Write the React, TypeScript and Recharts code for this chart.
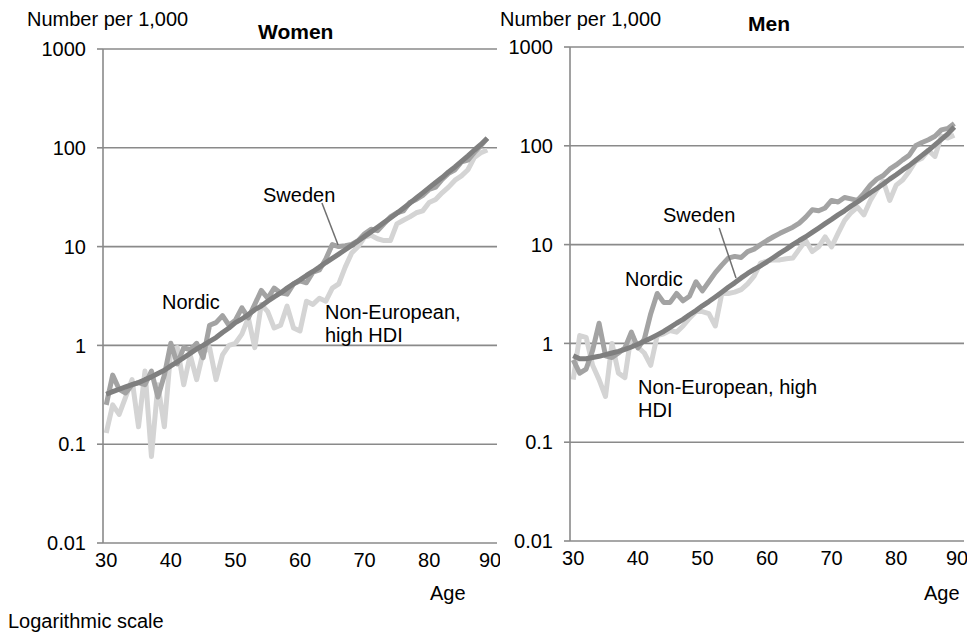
import React from 'react';
import { LineChart, Line, XAxis, YAxis, CartesianGrid, ReferenceLine } from 'recharts';

const ages = [
  30, 31, 32, 33, 34, 35, 36, 37, 38, 39, 40, 41, 42, 43, 44, 45, 46, 47, 48, 49,
  50, 51, 52, 53, 54, 55, 56, 57, 58, 59, 60, 61, 62, 63, 64, 65, 66, 67, 68, 69,
  70, 71, 72, 73, 74, 75, 76, 77, 78, 79, 80, 81, 82, 83, 84, 85, 86, 87, 88, 89,
];

const womenSweden = [
  0.32, 0.34, 0.36, 0.38, 0.4, 0.42, 0.45, 0.48, 0.52, 0.56, 0.62, 0.68, 0.75, 0.83, 0.92, 1.0, 1.1, 1.2, 1.35, 1.5,
  1.7, 1.85, 2.05, 2.3, 2.5, 2.8, 3.1, 3.4, 3.8, 4.2, 4.6, 5.1, 5.6, 6.2, 6.9, 7.6, 8.4, 9.3, 10.3, 11.4,
  12.7, 14.1, 15.7, 17.5, 19.5, 21.8, 24.5, 27.5, 31, 35, 39.5, 44.5, 50, 57, 64, 73, 83, 95, 108, 125,
];
const womenNordic = [
  0.25, 0.5, 0.36, 0.33, 0.4, 0.42, 0.4, 0.55, 0.3, 0.5, 1.05, 0.65, 0.95, 0.9, 1.05, 0.75, 1.6, 1.7, 2.0, 1.6,
  1.8, 2.4, 1.9, 2.6, 3.6, 3.0, 3.8, 3.4, 3.3, 4.2, 4.5, 4.3, 5.5, 5.8, 7.5, 10.5, 10.0, 10.2, 10.5, 11.5,
  13.5, 15, 14.5, 17, 20, 22, 23, 28, 30, 33, 38, 40, 48, 55, 60, 72, 75, 90, 105, 125,
];
const womenNonEur = [
  0.13, 0.25, 0.2, 0.3, 0.45, 0.15, 0.55, 0.075, 0.4, 0.15, 0.9, 0.95, 0.4, 0.8, 0.45, 0.85, 0.95, 0.45, 0.8, 1.0,
  1.05, 1.3, 1.9, 0.95, 2.6, 2.2, 1.5, 1.6, 2.5, 1.5, 1.4, 2.8, 2.6, 3.0, 2.8, 3.8, 4.2, 6.2, 8.6, 10,
  12.5, 13, 12, 11.5, 11.5, 17, 18.5, 20, 22, 23, 28, 30, 35, 40, 47, 52, 60, 80, 89, 95,
];

const menSweden = [
  0.75, 0.7, 0.7, 0.72, 0.74, 0.77, 0.8, 0.83, 0.87, 0.92, 0.98, 1.05, 1.13, 1.22, 1.32, 1.45, 1.6, 1.75, 1.95, 2.15,
  2.4, 2.65, 2.95, 3.3, 3.7, 4.1, 4.6, 5.1, 5.6, 6.1, 6.7, 7.4, 8.2, 9.0, 10, 11, 12, 13.3, 14.7, 16.3,
  18, 20, 22, 24.5, 27, 30, 33.5, 37, 41, 46, 51, 57, 63, 71, 80, 90, 102, 116, 132, 155,
];
const menNordic = [
  0.68, 0.5, 0.55, 0.85, 1.6, 0.75, 0.72, 0.8, 0.9, 1.3, 0.9, 1.1, 2.0, 3.2, 2.6, 2.6, 3.2, 2.7, 3.0, 4.2,
  3.4, 4.2, 5.2, 6.2, 7.3, 7.6, 7.4, 8.5, 9.0, 10, 11, 12, 13, 14, 15, 16.5, 19, 22.5, 22, 23.5,
  28, 27, 30, 29, 28, 33, 40, 46, 50, 58, 64, 72, 80, 100, 108, 115, 125, 145, 150, 168,
];
const menNonEur = [
  0.43, 1.2, 1.15, 0.6, 0.43, 0.29, 1.0, 0.5, 0.45, 1.25, 0.92, 0.8, 0.6, 1.2, 1.25, 1.35, 1.3, 1.5, 1.8, 2.1,
  2.1, 2.0, 1.5, 3.2, 3.2, 3.3, 3.5, 4.0, 4.8, 6.5, 6.8, 7.0, 7.0, 7.2, 7.3, 9, 11, 8.5, 9.5, 12,
  9.5, 13, 17.5, 21, 24, 20, 28, 36, 44, 28, 40, 45, 55, 70, 75, 90, 78, 125, 120, 128,
];

const ageTicks = [30, 40, 50, 60, 70, 80, 90];
const rateTicks = [0.01, 0.1, 1, 10, 100, 1000];

const womenRows = ages.map((age, i) => ({
  age,
  sweden: womenSweden[i],
  nordic: womenNordic[i],
  nonEur: womenNonEur[i],
}));
const menRows = ages.map((age, i) => ({
  age,
  sweden: menSweden[i],
  nordic: menNordic[i],
  nonEur: menNonEur[i],
}));

const FONT = '"Liberation Sans", Arial, sans-serif';
const GRID = '#8a8a8a';

const Panel = ({ rows, leader }: { rows: any[]; leader: { x: number; y: number }[] }) => (
  <LineChart width={500} height={600} data={rows} margin={{ top: 49, right: 3, left: 0, bottom: 27 }}>
    <CartesianGrid horizontal vertical={false} stroke={GRID} strokeWidth={1.6} />
    <XAxis
      dataKey="age"
      type="number"
      domain={[29.5, 90.5]}
      ticks={ageTicks}
      allowDataOverflow
      axisLine={false}
      tickLine={false}
      tickMargin={4}
      height={30}
      tick={{ fontSize: 20, fill: '#000', fontFamily: FONT }}
    />
    <YAxis
      type="number"
      scale="log"
      domain={[0.01, 1000]}
      ticks={rateTicks}
      allowDataOverflow
      width={103}
      axisLine={{ stroke: GRID, strokeWidth: 1.6 }}
      tickLine={{ stroke: GRID, strokeWidth: 1.6 }}
      tickSize={6}
      tickMargin={11}
      tickFormatter={(v: number) => String(v)}
      tick={{ fontSize: 20, fill: '#000', fontFamily: FONT }}
    />
    <Line dataKey="nonEur" stroke="#d4d4d4" strokeWidth={5} dot={false} isAnimationActive={false} strokeLinejoin="round" />
    <Line dataKey="nordic" stroke="#a3a3a3" strokeWidth={5} dot={false} isAnimationActive={false} strokeLinejoin="round" />
    <Line dataKey="sweden" stroke="#7f7f7f" strokeWidth={5} dot={false} isAnimationActive={false} strokeLinejoin="round" />
    <ReferenceLine segment={leader} stroke="#707070" strokeWidth={1.5} ifOverflow="visible" />
  </LineChart>
);

const txt = (left: number, top: number, s: React.ReactNode, bold = false) => (
  <div
    style={{
      position: 'absolute',
      left,
      top,
      fontFamily: FONT,
      fontSize: bold ? 21 : 20,
      fontWeight: bold ? 'bold' : 'normal',
      lineHeight: '23px',
      whiteSpace: 'nowrap',
      color: '#000',
    }}
  >
    {s}
  </div>
);

export default function App() {
  return (
    <div style={{ position: 'absolute', left: 0, top: 0, width: 973, height: 637, background: '#fff', overflow: 'hidden' }}>
      <div style={{ position: 'absolute', left: 0, top: 0 }}>
        <Panel rows={womenRows} leader={[{ x: 63.4, y: 27.6 }, { x: 65.9, y: 10.4 }]} />
      </div>
      <div style={{ position: 'absolute', left: 467, top: -2 }}>
        <Panel rows={menRows} leader={[{ x: 52.6, y: 14.7 }, { x: 55.2, y: 4.6 }]} />
      </div>

      {txt(27, 8, 'Number per 1,000')}
      {txt(258, 20, 'Women', true)}
      {txt(500, 8, 'Number per 1,000')}
      {txt(748, 12, 'Men', true)}

      {txt(263, 184, 'Sweden')}
      {txt(162, 291, 'Nordic')}
      {txt(325, 301, <>Non-European,<br />high HDI</>)}

      {txt(663, 204, 'Sweden')}
      {txt(625, 268, 'Nordic')}
      {txt(638, 376, <>Non-European, high<br />HDI</>)}

      {txt(430, 582, 'Age')}
      {txt(924, 582, 'Age')}
      {txt(8, 610, 'Logarithmic scale')}
    </div>
  );
}
